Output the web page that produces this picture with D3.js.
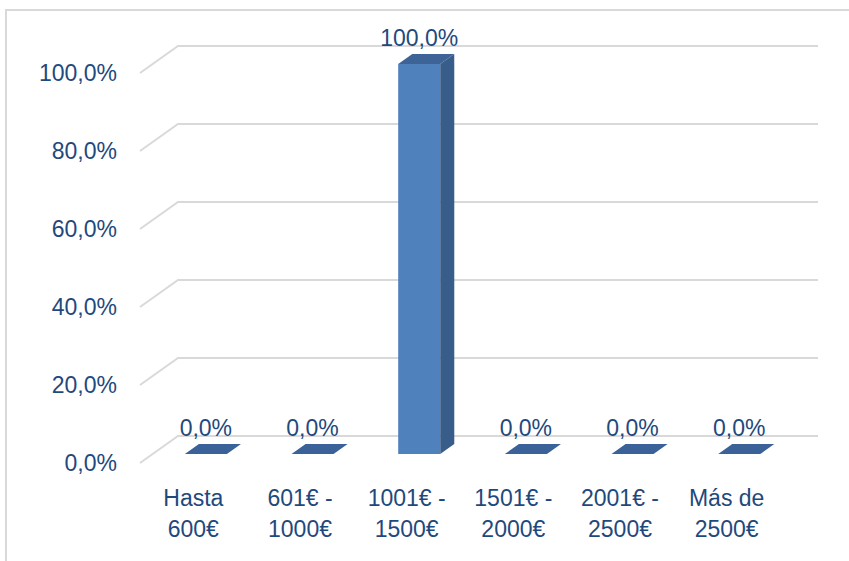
<!DOCTYPE html>
<html>
<head>
<meta charset="utf-8">
<script src="https://cdn.jsdelivr.net/npm/d3@7"></script>
<style>
  html, body { margin: 0; padding: 0; background: #fff; }
  svg { display: block; }
</style>
</head>
<body>
<div id="chart"></div>
<script>
const categories = [
  ['Hasta', '600€'],
  ['601€ -', '1000€'],
  ['1001€ -', '1500€'],
  ['1501€ -', '2000€'],
  ['2001€ -', '2500€'],
  ['Más de', '2500€']
];
const values = [0, 0, 1, 0, 0, 0];
const yTicks = [0, 0.2, 0.4, 0.6, 0.8, 1];

const W = 849, H = 561;
const textColor = '#1F497D';
const font = '"Liberation Sans", Arial, sans-serif';

// front plane and depth of the 3D box
const front = { left: 140, right: 780, bottom: 463, top: 73 };
const depth = { dx: 38, dy: -27 };
const barDepth = [0.33, 0.70];

const pct = d3.formatLocale({ decimal: ',', thousands: '.', grouping: [3], currency: ['', '€'] }).format('.1%');

const svg = d3.select('#chart').append('svg')
  .attr('width', W)
  .attr('height', H);

// chart border
svg.append('rect')
  .attr('x', 6).attr('y', 10)
  .attr('width', 900).attr('height', 600)
  .attr('fill', '#fff')
  .attr('stroke', '#d9d9d9')
  .attr('stroke-width', 2);

const keys = categories.map((c, i) => i);

const x = d3.scaleBand()
  .domain(keys)
  .range([front.left, front.right])
  .paddingInner(0.606)
  .paddingOuter(0.303);

const y = d3.scaleLinear()
  .domain([0, 1])
  .range([front.bottom, front.top]);

const proj = (px, py, d) => [px + depth.dx * d, py + depth.dy * d];

// gridlines: side wall diagonal + back wall line
svg.append('g')
  .selectAll('path')
  .data(yTicks)
  .join('path')
  .attr('fill', 'none')
  .attr('stroke', '#d9d9d9')
  .attr('stroke-width', 2)
  .attr('d', v => {
    const p0 = [front.left, y(v)];
    const p1 = proj(front.left, y(v), 1);
    const p2 = proj(front.right, y(v), 1);
    return d3.line()([p0, p1, p2]);
  });

// y axis labels
const yAxis = svg.append('g')
  .attr('transform', `translate(${front.left},0)`)
  .call(d3.axisLeft(y).tickValues(yTicks).tickSize(0).tickPadding(23).tickFormat(pct));
yAxis.select('.domain').remove();
yAxis.selectAll('text')
  .attr('fill', textColor)
  .style('font-family', font)
  .style('font-size', '23px');

// bars
const bars = svg.append('g')
  .selectAll('g')
  .data(values)
  .join('g');

function face(pts) { return d3.line()(pts) + 'Z'; }

bars.each(function (v, i) {
  const g = d3.select(this);
  const x0 = x(i), x1 = x(i) + x.bandwidth();
  const yb = y(0), yt = y(v);
  const [d0, d1] = barDepth;
  const A = proj(x0, yt, d0), B = proj(x1, yt, d0);
  const C = proj(x1, yt, d1), D = proj(x0, yt, d1);
  const Bb = proj(x1, yb, d0), Cb = proj(x1, yb, d1), Ab = proj(x0, yb, d0);
  if (v > 0) {
    g.append('path').attr('d', face([A, B, Bb, Ab])).attr('fill', '#4F81BD');
    g.append('path').attr('d', face([B, C, Cb, Bb])).attr('fill', '#385D8A');
  }
  g.append('path').attr('d', face([A, B, C, D])).attr('fill', v > 0 ? '#3E6497' : '#3A6198');

  // value label centred over the front face
  g.append('text')
    .attr('x', (A[0] + B[0]) / 2)
    .attr('y', D[1] - 8)
    .attr('text-anchor', 'middle')
    .attr('fill', textColor)
    .style('font-family', font)
    .style('font-size', '23px')
    .text(pct(v));
});

// category labels
const catLabels = svg.append('g')
  .selectAll('text')
  .data(categories)
  .join('text')
  .attr('text-anchor', 'middle')
  .attr('fill', textColor)
  .style('font-family', font)
  .style('font-size', '23px');

catLabels.each(function (lines, i) {
  const t = d3.select(this);
  const cx = x(i) + x.bandwidth() / 2;
  lines.forEach((line, j) => {
    t.append('tspan')
      .attr('x', cx)
      .attr('y', 506 + j * 31)
      .text(line);
  });
});
</script>
</body>
</html>
